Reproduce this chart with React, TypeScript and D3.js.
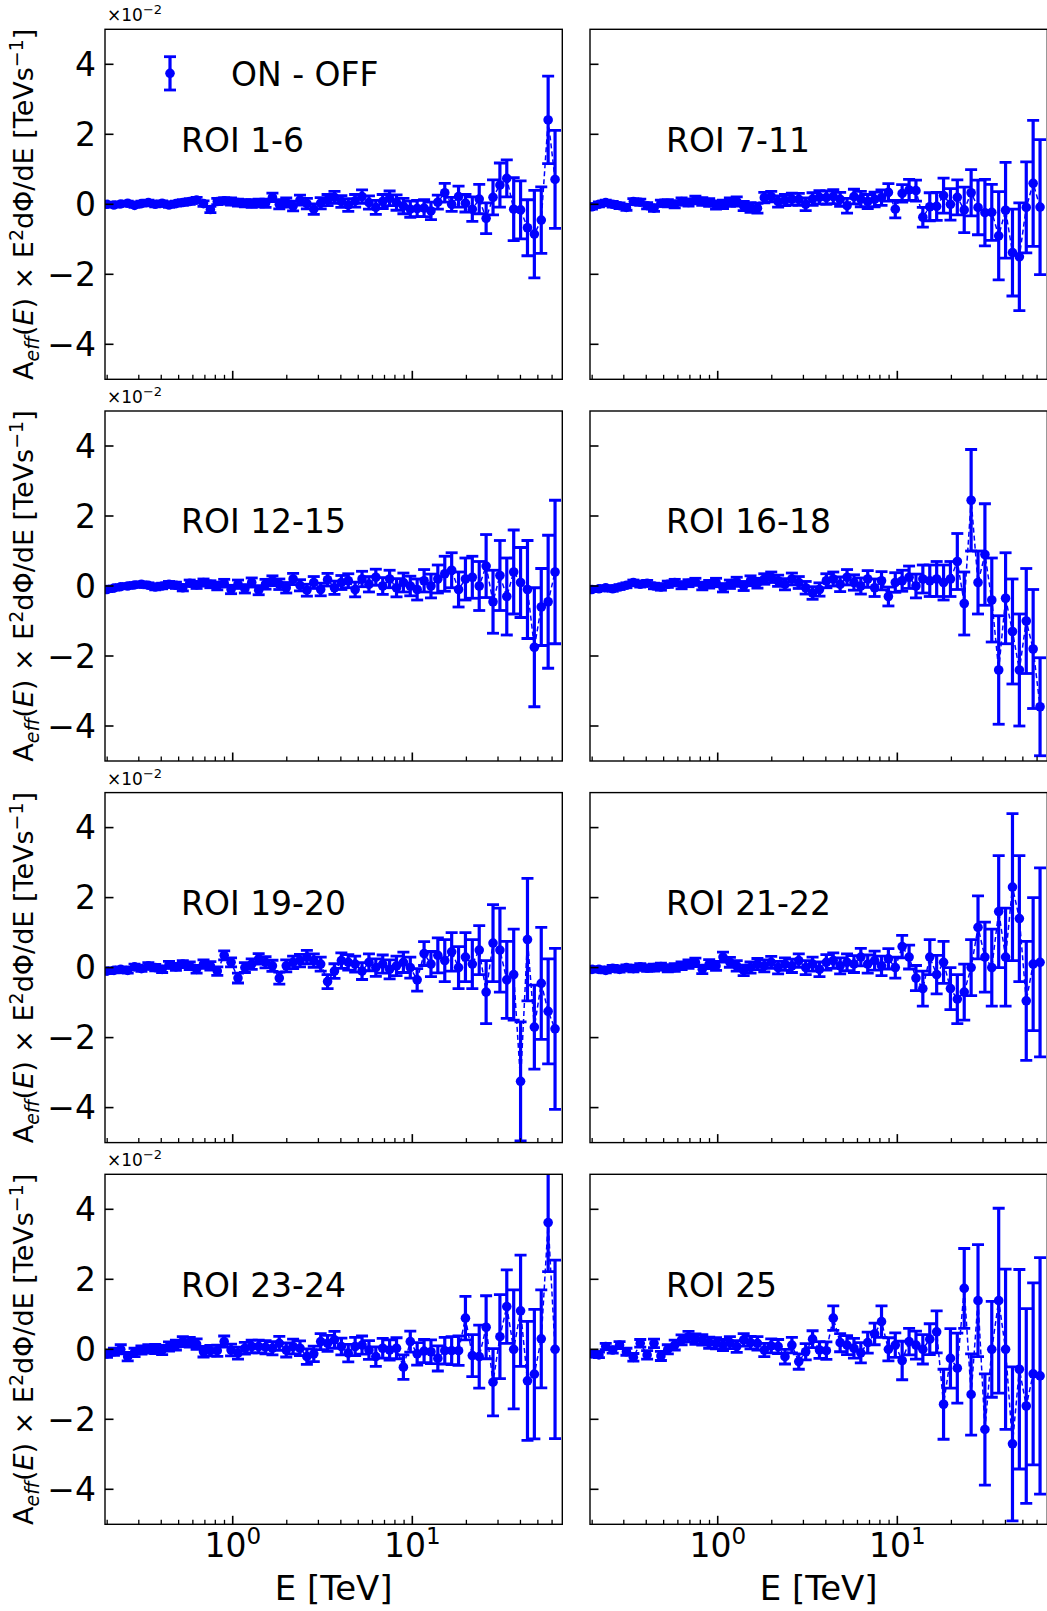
import React, { useEffect, useRef } from "react";
import * as d3 from "d3";

// energy bin centres [TeV]
const energies = [
  0.1995, 0.2181, 0.238, 0.2602, 0.2841, 0.3103, 0.3391, 0.3704, 0.4046, 0.4418,
  0.4828, 0.5274, 0.5763, 0.6293, 0.6877, 0.7511, 0.8205, 0.8964, 0.979, 1.07,
  1.169, 1.276, 1.395, 1.523, 1.664, 1.817, 1.986, 2.169, 2.369, 2.588,
  2.827, 3.089, 3.374, 3.686, 4.027, 4.399, 4.805, 5.249, 5.735, 6.263,
  6.842, 7.475, 8.166, 8.919, 9.743, 10.64, 11.63, 12.7, 13.87, 15.16,
  16.56, 18.09, 19.76, 21.58, 23.58, 25.76, 28.14, 30.74, 33.57, 36.68,
  40.06, 43.77, 47.81, 52.23, 57.05, 62.33,
];

// ON - OFF, in units of 1e-2 TeV s^-1
const roi1to6 = [
  0.0, -0.02, 0.01, 0.03, -0.03, 0.02, 0.05, 0.0, 0.03, -0.02,
  0.02, 0.05, 0.08, 0.12, 0.02, -0.15, 0.08, 0.1, 0.08, 0.05,
  0.03, 0.02, 0.04, 0.03, 0.2, 0.0, 0.05, -0.05, 0.12, 0.02,
  -0.14, 0.03, 0.12, 0.2, 0.08, -0.02, 0.1, 0.22, 0.05, -0.09,
  0.08, 0.17, 0.05, -0.05, -0.14, -0.12, -0.11, -0.19, 0.06, 0.33,
  0.0, 0.22, 0.03, -0.14, 0.15, -0.4, 0.2, 0.55, 0.74, -0.14,
  -0.16, -0.67, -0.85, -0.45, 2.41, 0.71,
];
const roi1to6Err = [
  0.06, 0.06, 0.06, 0.06, 0.06, 0.07, 0.07, 0.07, 0.07, 0.07,
  0.07, 0.08, 0.08, 0.08, 0.08, 0.09, 0.09, 0.09, 0.1, 0.1,
  0.1, 0.11, 0.11, 0.12, 0.12, 0.13, 0.13, 0.14, 0.14, 0.15,
  0.15, 0.16, 0.16, 0.17, 0.17, 0.18, 0.18, 0.19, 0.19, 0.2,
  0.2, 0.21, 0.22, 0.22, 0.23, 0.23, 0.24, 0.25, 0.2, 0.27,
  0.2, 0.3, 0.25, 0.35, 0.42, 0.44, 0.5, 0.63, 0.53, 0.9,
  0.83, 0.8, 1.25, 0.95, 1.25, 1.4,
];

const roi7to11 = [
  -0.07, 0.0, 0.05, 0.0, -0.04, -0.09, 0.08, 0.06, -0.04, -0.11,
  0.03, 0.03, 0.0, 0.08, 0.05, 0.12, 0.08, 0.05, -0.02, 0.0,
  0.06, 0.08, -0.05, -0.09, -0.11, 0.19, 0.22, 0.08, 0.12, 0.15,
  0.14, 0.0, 0.15, 0.2, 0.19, 0.22, 0.14, -0.04, 0.22, 0.15,
  0.08, 0.14, 0.19, 0.34, -0.14, 0.31, 0.41, 0.39, -0.37, -0.07,
  -0.06, 0.25, 0.0, 0.2, -0.16, 0.33, -0.09, -0.24, -0.23, -0.9,
  -0.17, -1.38, -1.5, -0.09, 0.6, -0.08,
];
const roi7to11Err = [
  0.07, 0.07, 0.07, 0.08, 0.08, 0.08, 0.08, 0.09, 0.09, 0.09,
  0.09, 0.1, 0.1, 0.1, 0.1, 0.11, 0.11, 0.11, 0.12, 0.12,
  0.12, 0.13, 0.13, 0.14, 0.14, 0.15, 0.15, 0.16, 0.16, 0.17,
  0.17, 0.18, 0.18, 0.19, 0.19, 0.2, 0.2, 0.21, 0.21, 0.22,
  0.2, 0.21, 0.22, 0.25, 0.25, 0.25, 0.3, 0.3, 0.28, 0.4,
  0.4, 0.5, 0.45, 0.5, 0.65, 0.66, 0.78, 0.95, 0.8, 1.26,
  1.37, 1.24, 1.54, 1.3, 1.8, 1.93,
];

const roi12to15 = [
  -0.1, -0.06, -0.02, 0.0, 0.03, 0.05, 0.02, -0.03, 0.0, 0.05,
  0.02, -0.05, 0.08, 0.03, 0.1, 0.05, 0.0, 0.08, -0.1, 0.05,
  -0.08, 0.1, -0.12, 0.05, 0.15, 0.05, -0.05, 0.2, 0.02, -0.12,
  0.1, -0.1, 0.18, -0.05, 0.1, 0.15, -0.1, 0.2, 0.05, 0.25,
  0.0, 0.2, -0.05, 0.1, 0.0, -0.1, 0.15, 0.0, 0.2, 0.35,
  0.45, -0.1, 0.2, 0.25, 0.0, 0.57, -0.45, 0.3, -0.3, 0.4,
  0.1, -0.1, -1.75, -0.6, -0.45, 0.4,
];
const roi12to15Err = [
  0.06, 0.06, 0.06, 0.07, 0.07, 0.07, 0.07, 0.08, 0.08, 0.08,
  0.09, 0.09, 0.09, 0.1, 0.1, 0.1, 0.11, 0.11, 0.12, 0.12,
  0.12, 0.13, 0.13, 0.14, 0.14, 0.15, 0.15, 0.16, 0.16, 0.17,
  0.17, 0.18, 0.18, 0.19, 0.2, 0.2, 0.21, 0.22, 0.22, 0.23,
  0.24, 0.25, 0.26, 0.27, 0.28, 0.3, 0.32, 0.34, 0.4, 0.5,
  0.5, 0.5, 0.6, 0.6, 0.7, 0.9, 0.9, 1.0, 1.1, 1.2,
  1.0, 1.4, 1.7, 1.1, 1.9, 2.05,
];

const roi16to18 = [
  -0.1, -0.08, -0.05, -0.08, -0.03, 0.02, 0.1, 0.05, 0.08, 0.0,
  -0.03, 0.05, 0.1, 0.02, 0.08, 0.12, 0.0, 0.05, 0.1, -0.05,
  0.05, 0.12, 0.0, 0.15, 0.08, 0.2, 0.25, 0.15, 0.05, 0.2,
  0.1, -0.05, -0.2, -0.1, 0.15, 0.2, 0.05, 0.25, 0.1, 0.0,
  0.2, -0.05, 0.15, -0.3, 0.1, 0.15, 0.25, 0.0, 0.2, 0.15,
  0.2, 0.1, 0.2, 0.7, -0.5, 2.45, 0.1, 0.9, -0.4, -2.4,
  -0.35, -1.3, -2.4, -1.0, -1.8, -3.45,
];
const roi16to18Err = [
  0.06, 0.06, 0.06, 0.07, 0.07, 0.07, 0.07, 0.08, 0.08, 0.08,
  0.09, 0.09, 0.09, 0.1, 0.1, 0.1, 0.11, 0.11, 0.12, 0.12,
  0.12, 0.13, 0.13, 0.14, 0.14, 0.15, 0.15, 0.16, 0.16, 0.17,
  0.17, 0.18, 0.18, 0.19, 0.2, 0.2, 0.21, 0.22, 0.22, 0.23,
  0.24, 0.25, 0.26, 0.27, 0.28, 0.3, 0.32, 0.34, 0.4, 0.45,
  0.5, 0.5, 0.5, 0.8, 0.9, 1.45, 0.9, 1.45, 1.2, 1.55,
  1.3, 1.5, 1.6, 1.5, 1.7, 1.4,
];

const roi19to20 = [
  -0.1, -0.08, -0.05, -0.08, 0.02, -0.03, 0.05, 0.0, -0.05, 0.08,
  0.02, 0.1, 0.05, -0.05, 0.1, 0.05, -0.1, 0.35, 0.15, -0.3,
  0.0, 0.1, 0.25, 0.15, 0.05, -0.3, 0.05, 0.15, 0.2, 0.3,
  0.2, 0.1, -0.4, -0.1, 0.2, 0.15, 0.1, -0.1, 0.15, 0.0,
  0.1, -0.05, 0.05, 0.15, 0.0, -0.35, 0.4, 0.1, 0.35, 0.2,
  0.45, 0.0, 0.3, 0.1, 0.5, -0.7, 0.7, 0.5, -0.35, -0.2,
  -3.25, 0.8, -1.7, -0.45, -1.25, -1.75,
];
const roi19to20Err = [
  0.07, 0.07, 0.07, 0.08, 0.08, 0.08, 0.09, 0.09, 0.09, 0.1,
  0.1, 0.1, 0.11, 0.11, 0.12, 0.12, 0.12, 0.13, 0.13, 0.14,
  0.14, 0.15, 0.15, 0.16, 0.16, 0.17, 0.17, 0.18, 0.18, 0.19,
  0.19, 0.2, 0.2, 0.21, 0.22, 0.22, 0.23, 0.24, 0.24, 0.25,
  0.26, 0.27, 0.28, 0.29, 0.3, 0.32, 0.34, 0.36, 0.5, 0.6,
  0.55, 0.6, 0.7, 0.7, 0.7, 0.9, 1.1, 1.2, 1.1, 1.3,
  1.7, 1.75, 1.2, 1.6, 1.5, 2.3,
];

const roi21to22 = [
  -0.05, -0.05, -0.08, -0.02, -0.05, 0.0, -0.03, 0.02, -0.02, 0.0,
  0.03, -0.02, 0.0, 0.05, 0.1, 0.15, -0.05, 0.1, 0.05, 0.3,
  0.15, 0.05, -0.08, 0.0, 0.1, 0.05, 0.15, 0.0, 0.1, 0.05,
  0.2, 0.0, 0.1, -0.05, 0.15, 0.2, 0.05, 0.15, 0.1, 0.3,
  0.1, 0.2, 0.05, 0.25, 0.0, 0.6, 0.3, -0.3, -0.6, 0.3,
  -0.2, 0.15, -0.6, -0.9, -0.7, 0.0, 1.15, 0.3, 0.0, 1.6,
  0.3, 2.3, 1.4, -0.95, 0.1, 0.15,
];
const roi21to22Err = [
  0.07, 0.07, 0.07, 0.08, 0.08, 0.08, 0.09, 0.09, 0.09, 0.1,
  0.1, 0.1, 0.11, 0.11, 0.12, 0.12, 0.12, 0.13, 0.13, 0.14,
  0.14, 0.15, 0.15, 0.16, 0.16, 0.17, 0.17, 0.18, 0.18, 0.19,
  0.19, 0.2, 0.2, 0.21, 0.22, 0.22, 0.23, 0.24, 0.24, 0.25,
  0.26, 0.27, 0.28, 0.29, 0.3, 0.32, 0.34, 0.36, 0.5, 0.5,
  0.55, 0.6, 0.6, 0.7, 0.8, 0.8, 0.9, 1.0, 1.1, 1.6,
  1.4, 2.1, 1.8, 1.7, 1.9, 2.7,
];

const roi23to24 = [
  -0.13, -0.07, 0.0, -0.21, -0.09, -0.02, 0.01, 0.01, -0.02, 0.08,
  0.12, 0.22, 0.2, 0.15, -0.07, -0.04, -0.04, 0.22, -0.02, -0.11,
  0.03, 0.08, 0.08, 0.06, 0.03, 0.17, -0.02, 0.08, 0.03, -0.21,
  -0.13, 0.22, 0.17, 0.27, 0.08, -0.11, 0.08, 0.12, -0.02, -0.21,
  0.03, -0.02, 0.03, -0.51, 0.22, -0.13, -0.05, -0.07, -0.26, -0.04,
  -0.04, -0.04, 0.89, -0.18, -0.21, 0.63, -0.94, 0.36, 1.22, 0.0,
  1.1, -0.9, -0.71, 0.3, 3.62, 0.0,
];
const roi23to24Err = [
  0.1, 0.1, 0.13, 0.12, 0.12, 0.12, 0.12, 0.13, 0.13, 0.13,
  0.14, 0.14, 0.14, 0.15, 0.15, 0.15, 0.16, 0.16, 0.17, 0.17,
  0.17, 0.18, 0.18, 0.19, 0.19, 0.2, 0.2, 0.21, 0.21, 0.22,
  0.22, 0.23, 0.23, 0.24, 0.24, 0.25, 0.26, 0.26, 0.27, 0.28,
  0.28, 0.29, 0.3, 0.35, 0.3, 0.32, 0.33, 0.34, 0.36, 0.38,
  0.4, 0.42, 0.62, 0.6, 0.9, 0.9, 0.96, 1.2, 1.05, 1.7,
  1.59, 1.7, 1.85, 1.4, 1.4, 2.55,
];

const roi25 = [
  -0.13, -0.16, 0.08, -0.02, 0.12, -0.07, -0.23, 0.17, -0.16, 0.17,
  -0.19, 0.0, 0.12, 0.27, 0.36, 0.29, 0.27, 0.19, 0.17, 0.12,
  0.19, 0.08, 0.27, 0.19, 0.17, -0.02, 0.1, 0.08, -0.21, 0.12,
  -0.35, -0.07, 0.29, -0.02, -0.04, 0.89, 0.19, 0.12, 0.03, -0.1,
  0.19, 0.44, 0.79, 0.0, 0.12, -0.32, 0.22, 0.12, 0.0, 0.29,
  0.5, -1.57, -0.26, -0.54, 1.74, -1.29, 1.39, -2.29, 0.0, 1.39,
  0.0, -2.7, -0.57, -1.62, -0.7, -0.76,
];
const roi25Err = [
  0.08, 0.08, 0.09, 0.09, 0.1, 0.1, 0.11, 0.11, 0.12, 0.12,
  0.13, 0.13, 0.14, 0.14, 0.15, 0.15, 0.15, 0.16, 0.16, 0.16,
  0.17, 0.17, 0.18, 0.18, 0.19, 0.19, 0.2, 0.2, 0.21, 0.22,
  0.22, 0.23, 0.24, 0.24, 0.25, 0.35, 0.26, 0.27, 0.28, 0.29,
  0.3, 0.31, 0.45, 0.33, 0.35, 0.55, 0.38, 0.4, 0.42, 0.44,
  0.6, 1.0, 0.85, 1.0, 1.14, 1.16, 1.6, 1.59, 1.37, 2.64,
  2.29, 2.2, 2.85, 2.78, 2.6, 3.38,
];

const roiLabels = ["ROI 1-6", "ROI 7-11", "ROI 12-15", "ROI 16-18", "ROI 19-20", "ROI 21-22", "ROI 23-24", "ROI 25"];
const yTicks = [-4, -2, 0, 2, 4];

const W = 1047;
const H = 1611;
const panelW = 457.3;
const panelH = 350;
const colX = [105, 590];
const rowY = [29.3, 411, 792.6, 1174.3];
const blue = "#0000ff";
const font = "'DejaVu Sans', sans-serif";
const bigFont = 33;

function App() {
  const svgRef = useRef<SVGSVGElement>(null);

  useEffect(() => {
    const svg = d3.select(svgRef.current);
    svg.selectAll("*").remove();

    const panels = [
      { label: roiLabels[0], vals: roi1to6, errs: roi1to6Err },
      { label: roiLabels[1], vals: roi7to11, errs: roi7to11Err },
      { label: roiLabels[2], vals: roi12to15, errs: roi12to15Err },
      { label: roiLabels[3], vals: roi16to18, errs: roi16to18Err },
      { label: roiLabels[4], vals: roi19to20, errs: roi19to20Err },
      { label: roiLabels[5], vals: roi21to22, errs: roi21to22Err },
      { label: roiLabels[6], vals: roi23to24, errs: roi23to24Err },
      { label: roiLabels[7], vals: roi25, errs: roi25Err },
    ];

    const x = d3.scaleLog().domain([0.1945, 68.4]).range([0, panelW]);
    const y = d3.scaleLinear().domain([-5, 5]).range([panelH, 0]);

    svg.append("rect").attr("width", W).attr("height", H).attr("fill", "#fff");

    panels.forEach((p, k) => {
      const col = k % 2;
      const row = Math.floor(k / 2);
      const g = svg.append("g").attr("transform", `translate(${colX[col]},${rowY[row]})`);

      const clipId = `clip-${k}`;
      g.append("clipPath").attr("id", clipId)
        .append("rect").attr("width", panelW).attr("height", panelH);

      const data = energies.map((e, i) => ({ e, v: p.vals[i], s: p.errs[i] }));
      const plot = g.append("g").attr("clip-path", `url(#${clipId})`);

      // dashed line through the points
      const line = d3.line<any>().x(d => x(d.e)).y(d => y(d.v));
      plot.append("path").datum(data)
        .attr("d", line)
        .attr("fill", "none")
        .attr("stroke", blue)
        .attr("stroke-width", 1.5)
        .attr("stroke-dasharray", "5,3");

      // error bars
      const bars = plot.selectAll("g.eb").data(data).join("g").attr("class", "eb");
      bars.append("line")
        .attr("x1", d => x(d.e)).attr("x2", d => x(d.e))
        .attr("y1", d => y(d.v - d.s)).attr("y2", d => y(d.v + d.s))
        .attr("stroke", blue).attr("stroke-width", 3.2);
      [1, -1].forEach(sgn => {
        bars.append("line")
          .attr("x1", d => x(d.e) - 6).attr("x2", d => x(d.e) + 6)
          .attr("y1", d => y(d.v + sgn * d.s)).attr("y2", d => y(d.v + sgn * d.s))
          .attr("stroke", blue).attr("stroke-width", 2.8);
      });
      bars.append("circle")
        .attr("cx", d => x(d.e)).attr("cy", d => y(d.v))
        .attr("r", 4.8).attr("fill", blue);

      // spines
      g.append("rect").attr("width", panelW).attr("height", panelH)
        .attr("fill", "none").attr("stroke", "#000").attr("stroke-width", 1.4);

      // x ticks (inward)
      x.ticks().forEach(t => {
        const major = Math.abs(Math.log10(t) - Math.round(Math.log10(t))) < 1e-9;
        g.append("line")
          .attr("x1", x(t)).attr("x2", x(t))
          .attr("y1", panelH).attr("y2", panelH - (major ? 8.5 : 4.5))
          .attr("stroke", "#000").attr("stroke-width", major ? 1.6 : 1.3);
        if (major && row === 3) {
          const txt = g.append("text")
            .attr("x", x(t)).attr("y", panelH + 33)
            .attr("text-anchor", "middle")
            .attr("font-family", font).attr("font-size", bigFont);
          txt.append("tspan").text("10");
          txt.append("tspan").attr("dy", -13).attr("font-size", 23).text(String(Math.round(Math.log10(t))));
        }
      });

      // y ticks (inward)
      yTicks.forEach(t => {
        g.append("line")
          .attr("x1", 0).attr("x2", 8.5)
          .attr("y1", y(t)).attr("y2", y(t))
          .attr("stroke", "#000").attr("stroke-width", 1.6);
        if (col === 0) {
          g.append("text")
            .attr("x", -9).attr("y", y(t))
            .attr("dy", "0.36em")
            .attr("text-anchor", "end")
            .attr("font-family", font).attr("font-size", bigFont)
            .text(t < 0 ? `\u2212${Math.abs(t)}` : String(t));
        }
      });

      if (col === 0) {
        // offset text
        const off = g.append("text").attr("x", 2).attr("y", -8)
          .attr("font-family", font).attr("font-size", 17);
        off.append("tspan").text("\u00d710");
        off.append("tspan").attr("dy", -7).attr("font-size", 13).text("\u22122");

        // y label
        const yl = g.append("text")
          .attr("transform", `translate(-72,${panelH / 2}) rotate(-90)`)
          .attr("text-anchor", "middle")
          .attr("font-family", font).attr("font-size", 27);
        yl.append("tspan").text("A");
        yl.append("tspan").attr("dy", 6).attr("font-size", 19).attr("font-style", "italic").text("eff");
        yl.append("tspan").attr("dy", -6).text("(");
        yl.append("tspan").attr("font-style", "italic").text("E");
        yl.append("tspan").text(") \u00d7 E");
        yl.append("tspan").attr("dy", -10).attr("font-size", 19).text("2");
        yl.append("tspan").attr("dy", 10).text("d\u03a6/dE [TeVs");
        yl.append("tspan").attr("dy", -10).attr("font-size", 19).text("\u22121");
        yl.append("tspan").attr("dy", 10).text("]");
      }

      if (row === 3) {
        g.append("text")
          .attr("x", panelW / 2).attr("y", panelH + 76)
          .attr("text-anchor", "middle")
          .attr("font-family", font).attr("font-size", bigFont + 1)
          .text("E [TeV]");
      }

      // ROI label
      g.append("text")
        .attr("x", 76).attr("y", 122.4)
        .attr("font-family", font).attr("font-size", bigFont)
        .text(p.label);

      // legend
      if (k === 0) {
        const lx = 65;
        g.append("line").attr("x1", lx).attr("x2", lx).attr("y1", 27.4).attr("y2", 60.7)
          .attr("stroke", blue).attr("stroke-width", 3.2);
        [27.4, 60.7].forEach(cy => {
          g.append("line").attr("x1", lx - 6).attr("x2", lx + 6).attr("y1", cy).attr("y2", cy)
            .attr("stroke", blue).attr("stroke-width", 2.8);
        });
        g.append("circle").attr("cx", lx).attr("cy", 44).attr("r", 4.8).attr("fill", blue);
        g.append("text").attr("x", 126).attr("y", 56.5)
          .attr("font-family", font).attr("font-size", bigFont)
          .text("ON - OFF");
      }
    });
  }, []);

  return (
    <svg
      ref={svgRef}
      width={W}
      height={H}
      style={{ position: "absolute", left: 0, top: 0 }}
    />
  );
}

export default App;
